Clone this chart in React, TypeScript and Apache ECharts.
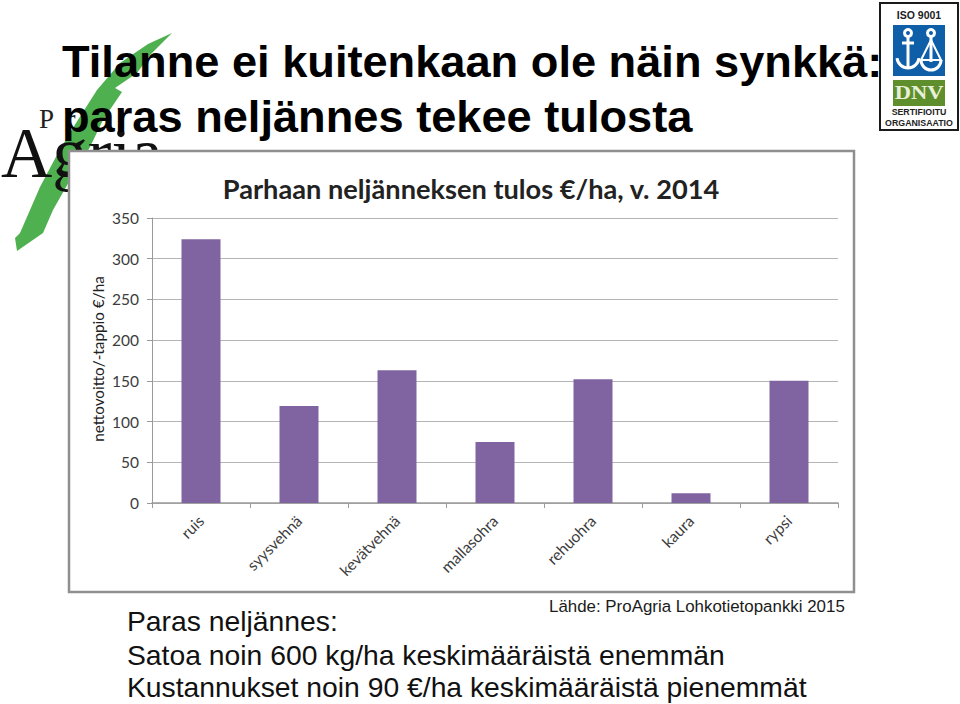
import React, { useEffect, useRef } from "react";
import * as echarts from "echarts";

const categories = ["ruis", "syysvehnä", "kevätvehnä", "mallasohra", "rehuohra", "kaura", "rypsi"];
const values = [324, 119, 163, 75, 152, 12, 150];
const yTicks = { min: 0, max: 350, interval: 50 };
const chartTitle = "Parhaan neljänneksen tulos €/ha, v. 2014";
const yName = "nettovoitto/-tappio €/ha";
const slideTitle = ["Tilanne ei kuitenkaan ole näin synkkä:", "paras neljännes tekee tulosta"];
const sourceText = "Lähde: ProAgria Lohkotietopankki 2015";
const bodyLines = [
  "Paras neljännes:",
  "Satoa noin 600 kg/ha keskimääräistä enemmän",
  "Kustannukset noin 90 €/ha keskimääräistä pienemmät",
];

const ARIAL = "'Liberation Sans', Arial, sans-serif";
const CAL = "Lato, 'Open Sans', sans-serif";
const SERIF = "'Liberation Serif', serif";

const leaf = [
  [172, 33], [148, 44], [120, 63], [97, 90], [76, 123], [58, 153], [40, 187], [20, 233], [15, 238], [17, 251],
  [43, 233], [53, 210], [70, 180], [90, 147], [103, 120], [122, 92], [115, 88], [137, 73], [150, 55],
];

function text(x: number, y: number, s: string, font: string, size: number, fill: string, extra: any = {}) {
  return {
    type: "text", x, y, z: extra.z ?? 5, rotation: extra.rotation ?? 0, scaleX: extra.scaleX ?? 1,
    style: {
      text: s, fontFamily: font, fontSize: size, fill,
      fontWeight: extra.weight ?? "normal", textAlign: extra.align ?? "left", textVerticalAlign: "middle",
    },
  };
}

function isoBadge() {
  const white = { fill: "none", stroke: "#fff", lineWidth: 3 };
  return [
    { type: "rect", z: 6, shape: { x: 880, y: 3, width: 78, height: 127 }, style: { fill: "#fff", stroke: "#1a1a1a", lineWidth: 2 } },
    text(919, 15, "ISO 9001", ARIAL, 10.5, "#222", { weight: "bold", align: "center", z: 7 }),
    { type: "rect", z: 7, shape: { x: 893, y: 25, width: 52, height: 51 }, style: { fill: "#0f5fa8" } },
    { type: "circle", z: 8, shape: { cx: 908, cy: 33, r: 3.5 }, style: white },
    { type: "line", z: 8, shape: { x1: 908, y1: 37, x2: 908, y2: 68 }, style: white },
    { type: "line", z: 8, shape: { x1: 902, y1: 43, x2: 914, y2: 43 }, style: white },
    { type: "arc", z: 8, shape: { cx: 908, cy: 57, r: 11, startAngle: 0.1, endAngle: Math.PI - 0.1 }, style: white },
    { type: "circle", z: 8, shape: { cx: 931, cy: 33, r: 3.5 }, style: white },
    { type: "line", z: 8, shape: { x1: 931, y1: 37, x2: 931, y2: 62 }, style: white },
    { type: "polyline", z: 8, shape: { points: [[931, 40], [921, 60], [941, 60], [931, 40]] }, style: { fill: "none", stroke: "#fff", lineWidth: 2 } },
    { type: "arc", z: 8, shape: { cx: 931, cy: 60, r: 10, startAngle: 0, endAngle: Math.PI }, style: white },
    { type: "rect", z: 7, shape: { x: 893, y: 80, width: 52, height: 26 }, style: { fill: "#5f8f2c" } },
    text(919, 93, "DNV", SERIF, 18, "#e8efd8", { weight: "bold", align: "center", z: 8, scaleX: 1.25 }),
    text(919, 112, "SERTIFIOITU", ARIAL, 8.8, "#222", { weight: "bold", align: "center", z: 7 }),
    text(919, 123, "ORGANISAATIO", ARIAL, 8.8, "#222", { weight: "bold", align: "center", z: 7 }),
  ];
}

export default function App() {
  const ref = useRef<HTMLDivElement>(null);
  useEffect(() => {
    const chart = echarts.init(ref.current!, undefined, { renderer: "svg" });
    chart.setOption({
      animation: false,
      backgroundColor: "#fff",
      grid: { left: 152, right: 122, top: 218, bottom: 201, containLabel: false },
      xAxis: {
        type: "category",
        data: categories,
        axisLine: { lineStyle: { color: "#9a9a9a", width: 1.5 } },
        axisTick: { show: true, alignWithLabel: false, length: 5, lineStyle: { color: "#9a9a9a" } },
        axisLabel: { rotate: 45, interval: 0, color: "#3c3c3c", fontFamily: CAL, fontSize: 15.5, margin: 15 },
      },
      yAxis: {
        type: "value",
        min: yTicks.min,
        max: yTicks.max,
        interval: yTicks.interval,
        axisLine: { show: true, lineStyle: { color: "#9a9a9a", width: 1 } },
        axisTick: { show: true, length: 5, lineStyle: { color: "#9a9a9a" } },
        splitLine: { lineStyle: { color: "#b5b5b5", width: 1 } },
        axisLabel: { color: "#3c3c3c", fontFamily: CAL, fontSize: 15.5, margin: 13 },
      },
      series: [
        { type: "bar", data: values, barWidth: 39, itemStyle: { color: "#8064a2" } },
      ],
      graphic: [
        { type: "polygon", z: -3, shape: { points: leaf }, style: { fill: "#4fb04f" } },
        text(39, 119, "P  r", SERIF, 27, "#222", { z: -2 }),
        text(1, 153, "Agria", SERIF, 71, "#111", { z: -2 }),
        text(62, 61, slideTitle[0], ARIAL, 45.2, "#000", { weight: "bold", z: 5 }),
        text(62, 116, slideTitle[1], ARIAL, 45.2, "#000", { weight: "bold", z: 5 }),
        { type: "rect", z: -1, shape: { x: 69, y: 151, width: 785, height: 441 }, style: { fill: "#fff", stroke: "#8f8f8f", lineWidth: 2.5 } },
        text(471, 188, chartTitle, CAL, 27.2, "#222", { weight: "bold", align: "center" }),
        text(98, 359, yName, CAL, 15.3, "#222", { rotation: Math.PI / 2, align: "center" }),
        text(549, 606, sourceText, ARIAL, 16.9, "#1a1a1a"),
        text(127, 621, bodyLines[0], ARIAL, 28.3, "#111"),
        text(127, 655, bodyLines[1], ARIAL, 28.3, "#111"),
        text(127, 687, bodyLines[2], ARIAL, 28.3, "#111"),
        ...isoBadge(),
      ],
    });
    return () => chart.dispose();
  }, []);
  return <div ref={ref} style={{ position: "absolute", left: 0, top: 0, width: 960, height: 704 }} />;
}
